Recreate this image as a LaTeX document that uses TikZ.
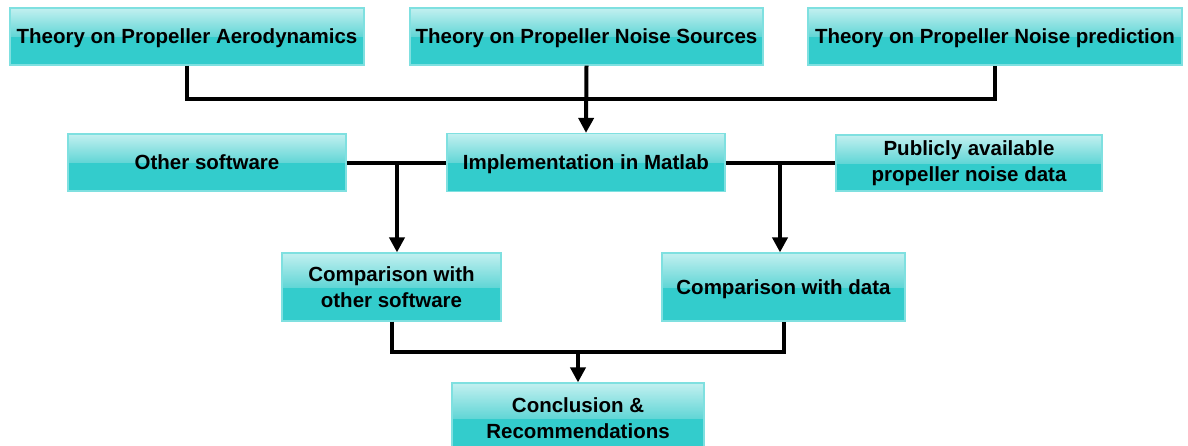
\documentclass[tikz,border=0pt]{standalone}
\usepackage{fontspec}
\setmainfont{Liberation Sans}
\usetikzlibrary{arrows.meta}
\definecolor{boxtop}{HTML}{C2F0F0}
\definecolor{boxmid}{HTML}{62D6D6}
\definecolor{boxlow}{HTML}{33CCCC}
\definecolor{boxedge}{HTML}{7FE0E0}
\tikzset{
  flowbox/.style={
    draw=boxedge, line width=1.2pt, inner sep=2pt,
    align=center, font=\fontsize{20.5}{26}\selectfont\bfseries,
    path picture={
      \fill[boxlow] (path picture bounding box.south west) rectangle (path picture bounding box.north east);
      \shade[top color=boxtop, bottom color=boxmid]
        (path picture bounding box.north west) rectangle (path picture bounding box.east);
    }},
  oneline/.style={text height=14.7pt, text depth=0pt},
  link/.style={line width=4pt, black},
  linkarrow/.style={link, -{Triangle[length=15pt,width=15pt]}}
}
\begin{document}
\begin{tikzpicture}[x=1pt,y=-1pt]
  \useasboundingbox[fill=white] (0,0) rectangle (1188,445);

  % top row of theory boxes
  \node[flowbox, oneline, minimum width=354pt, minimum height=57pt] (aero) at (187,36.5) {Theory on Propeller Aerodynamics};
  \node[flowbox, oneline, minimum width=353pt, minimum height=57pt] (src)  at (586.5,36.5) {Theory on Propeller Noise Sources};
  \node[flowbox, oneline, minimum width=374pt, minimum height=57pt] (pred) at (995,36.5) {Theory on Propeller Noise prediction};

  % middle row
  \node[flowbox, oneline, minimum width=278pt, minimum height=57pt] (other) at (207,162.5) {Other software};
  \node[flowbox, oneline, minimum width=278pt, minimum height=58pt] (matlab) at (586,162.5) {Implementation in Matlab};
  \node[flowbox, minimum width=266pt, minimum height=56pt] (pub) at (969,163) {Publicly available\\propeller noise data};

  % comparison row
  \node[flowbox, minimum width=219pt, minimum height=68pt] (cmpsw) at (391.5,287) {Comparison with\\other software};
  \node[flowbox, oneline, minimum width=243pt, minimum height=68pt] (cmpdata) at (783.5,287) {Comparison with data};

  % final box
  \node[flowbox, minimum width=252pt, minimum height=70pt] (concl) at (578,418) {Conclusion \&\\Recommendations};

  % junction points
  \coordinate (jtop) at (586,99);
  \coordinate (jleft) at (397,162.5);
  \coordinate (jright) at (780,162.5);
  \coordinate (jbot) at (578,352);

  % connectors
  \draw[link] (aero.south) |- (jtop) -| (pred.south);
  \draw[linkarrow] (src.south) -- (matlab.north);
  \draw[link] (other.east) -- (matlab.west);
  \draw[link] (matlab.east) -- (matlab.east -| pub.west);
  \draw[linkarrow] (jleft) -- (jleft |- cmpsw.north);
  \draw[linkarrow] (jright) -- (jright |- cmpdata.north);
  \draw[link] (cmpsw.south) |- (jbot) -| (cmpdata.south);
  \draw[linkarrow] (jbot) -- (concl.north);
\end{tikzpicture}
\end{document}
